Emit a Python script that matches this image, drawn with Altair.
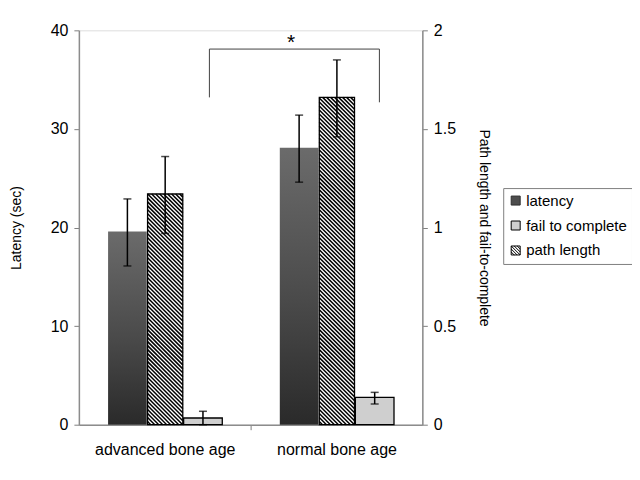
import altair as alt
import pandas as pd
import math

# ---------------- data ----------------
groups = ["advanced bone age", "normal bone age"]
latency = [19.6, 28.1]
latency_lo = [16.1, 24.6]
latency_hi = [22.9, 31.4]
path_length = [1.17, 1.66]
path_lo = [0.97, 1.46]
path_hi = [1.36, 1.85]
fail = [0.034, 0.139]
fail_lo = [0.0, 0.105]
fail_hi = [0.068, 0.164]
series = ["latency", "fail to complete", "path length"]

# significance bracket (x in group units, y in seconds)
bracket_x = [0.76, 1.75]
bracket_top = [38.1]
bracket_leg_bottom = [33.2, 32.7]
star_x = [1.235]

# ---------------- layout / style ----------------
W, H = 344, 395
FONT = "Liberation Sans"
slots = {"latency": (0.17, 0.395), "path length": (0.40, 0.605), "fail to complete": (0.61, 0.835)}


def bars(name, vals, lo, hi):
    a, b = slots[name]
    return pd.DataFrame({
        "group": groups,
        "x0": [i + a for i in range(len(groups))],
        "x1": [i + b for i in range(len(groups))],
        "xc": [i + (a + b) / 2 for i in range(len(groups))],
        "v": vals, "lo": lo, "hi": hi,
    })


lat_df = bars("latency", latency, latency_lo, latency_hi)
path_df = bars("path length", path_length, path_lo, path_hi)
fail_df = bars("fail to complete", fail, fail_lo, fail_hi)

# hatch segments for the path-length bars (45 deg in screen space)
step = 4.0
rows = []
for _, r in path_df.iterrows():
    u0, u1 = r.x0 * W / 2, r.x1 * W / 2
    vt = r.v * H / 2
    for k in range(math.ceil(u0 / step), math.floor((u1 + vt) / step) + 1):
        c = k * step
        us = max(u0, c - vt)
        ue = min(u1, c)
        if ue - us > 0.3:
            rows.append({"x": us * 2 / W, "y": (c - us) * 2 / H,
                         "x2": ue * 2 / W, "y2": (c - ue) * 2 / H})
hatch_df = pd.DataFrame(rows)

xs = alt.Scale(domain=[0, 2], nice=False, zero=False)
yl = alt.Scale(domain=[0, 40], nice=False)
yr = alt.Scale(domain=[0, 2], nice=False)

label_expr = " : ".join(
    [f"datum.value == {i + 0.5} ? '{g}'" for i, g in enumerate(groups)] + ["''"])
x_axis = alt.Axis(values=[0.5, 1, 1.5], labelExpr=label_expr, title=None, grid=False,
                  tickSize=5, tickColor="#808080",
                  tickOpacity={"condition": {"test": "datum.value == 1", "value": 1}, "value": 0},
                  domainColor="#8c8c8c", domainWidth=1.5, labelFontSize=16,
                  labelPadding=12, labelColor="black", labelFont=FONT)

left_axis = alt.Axis(values=[0, 10, 20, 30, 40], title="Latency (sec)", orient="left",
                     grid=False, tickSize=5, tickColor="#808080", domainColor="#8c8c8c",
                     domainWidth=1.5, labelFontSize=16, labelPadding=6, labelFont=FONT,
                     labelColor="black", titleFontSize=14, titleFontWeight="normal",
                     titleFont=FONT, titlePadding=27, titleColor="black")
right_axis = alt.Axis(values=[0, 0.5, 1, 1.5, 2], format="~g",
                      title="Path length and fail-to-complete", orient="right",
                      grid=False, tickSize=5, tickColor="#808080", domainColor="#8c8c8c",
                      domainWidth=1.5, labelFontSize=16, labelPadding=6, labelFont=FONT,
                      labelColor="black", titleFontSize=14, titleFontWeight="normal",
                      titleFont=FONT, titlePadding=21, titleColor="black")


def X(f):
    return alt.X(f, scale=xs, axis=x_axis)


def YL(f):
    return alt.Y(f, scale=yl, axis=left_axis)


def YR(f):
    return alt.Y(f, scale=yr, axis=right_axis)


lat_grad = alt.Gradient(gradient="linear", x1=0, x2=0, y1=0, y2=1,
                        stops=[alt.GradientStop(color="#6b6b6b", offset=0),
                               alt.GradientStop(color="#4a4a4a", offset=0.55),
                               alt.GradientStop(color="#2a2a2a", offset=1)])

# ---- legend (hidden points provide the legend only) ----
sq = "M-1,-1H1V1H-1Z"
hatch_sym = ("M-1,-1H1V1H-1Z M-1,-0.33L0.33,1 M-0.33,-1L1,0.33 M-1,0.33L-0.33,1 "
             "M0.33,-1L1,-0.33 M-1,-1L1,1")
legend_df = pd.DataFrame({"series": series, "x": [0.3, 0.3, 0.3], "y": [2, 2, 2]})
leg = alt.Legend(title=None, orient="none", legendX=425, legendY=158,
                 labelFont=FONT, labelFontSize=15, labelColor="black",
                 symbolSize=81, rowPadding=9, labelOffset=3,
                 padding=5, strokeColor="#808080", fillColor="white",
                 symbolOpacity=1, symbolStrokeWidth=1)
legend_layer = alt.Chart(legend_df).mark_point(filled=True, opacity=0, size=81, strokeWidth=1).encode(
    x=X("x:Q"),
    y=YL("y:Q"),
    fill=alt.Fill("series:N", scale=alt.Scale(domain=series, range=["#4d4d4d", "#cfcfcf", "white"]),
                  legend=leg),
    stroke=alt.Stroke("series:N", scale=alt.Scale(domain=series, range=["#2e2e2e", "black", "black"]),
                      legend=leg),
    shape=alt.Shape("series:N", scale=alt.Scale(domain=series, range=[sq, sq, hatch_sym]),
                    legend=leg),
)

lat_bars = alt.Chart(lat_df).mark_rect(fill=lat_grad).encode(
    x=X("x0:Q"), x2="x1:Q", y=YL("v:Q"), y2=alt.datum(0))
lat_err = alt.Chart(lat_df).mark_rule(color="black", strokeWidth=1.5).encode(
    x=X("xc:Q"), y=YL("lo:Q"), y2="hi:Q")
lat_cap_lo = alt.Chart(lat_df).mark_tick(color="black", orient="horizontal", size=8, thickness=1.5).encode(
    x=X("xc:Q"), y=YL("lo:Q"))
lat_cap_hi = alt.Chart(lat_df).mark_tick(color="black", orient="horizontal", size=8, thickness=1.5).encode(
    x=X("xc:Q"), y=YL("hi:Q"))

br_df = pd.DataFrame({"x": [bracket_x[0]], "x2": [bracket_x[1]], "y": bracket_top})
br_h = alt.Chart(br_df).mark_rule(color="#404040", strokeWidth=1).encode(
    x=X("x:Q"), x2="x2:Q", y=YL("y:Q"))
legs_df = pd.DataFrame({"x": bracket_x, "y": bracket_top * 2, "y2": bracket_leg_bottom})
br_v = alt.Chart(legs_df).mark_rule(color="#404040", strokeWidth=1).encode(
    x=X("x:Q"), y=YL("y:Q"), y2="y2:Q")
star_df = pd.DataFrame({"x": star_x, "y": bracket_top, "t": ["*"]})
star = alt.Chart(star_df).mark_text(font=FONT, fontSize=21, baseline="alphabetic", align="center",
                                    color="black").encode(
    x=X("x:Q"), y=YL("y:Q"), text="t:N")

left = alt.layer(legend_layer, lat_bars, lat_err, lat_cap_lo, lat_cap_hi, br_h, br_v, star)

path_bg = alt.Chart(path_df).mark_rect(fill="white").encode(
    x=X("x0:Q"), x2="x1:Q", y=YR("v:Q"), y2=alt.datum(0))
hatch = alt.Chart(hatch_df).mark_rule(color="black", strokeWidth=1.5, strokeCap="butt").encode(
    x=X("x:Q"), x2="x2:Q", y=YR("y:Q"), y2="y2:Q")
path_outline = alt.Chart(path_df).mark_rect(fill="white", fillOpacity=0, stroke="black", strokeWidth=1.3).encode(
    x=X("x0:Q"), x2="x1:Q", y=YR("v:Q"), y2=alt.datum(0))
fail_bars = alt.Chart(fail_df).mark_rect(fill="#cfcfcf", stroke="black", strokeWidth=1.3).encode(
    x=X("x0:Q"), x2="x1:Q", y=YR("v:Q"), y2=alt.datum(0))


def errs(df):
    r = alt.Chart(df).mark_rule(color="black", strokeWidth=1.5).encode(
        x=X("xc:Q"), y=YR("lo:Q"), y2="hi:Q")
    c1 = alt.Chart(df).mark_tick(color="black", orient="horizontal", size=8, thickness=1.5).encode(
        x=X("xc:Q"), y=YR("lo:Q"))
    c2 = alt.Chart(df).mark_tick(color="black", orient="horizontal", size=8, thickness=1.5).encode(
        x=X("xc:Q"), y=YR("hi:Q"))
    return [r, c1, c2]


right = alt.layer(path_bg, hatch, path_outline, fail_bars, *errs(path_df), *errs(fail_df))

chart = alt.layer(left, right).resolve_scale(y="independent").properties(
    width=W, height=H,
    padding={"left": 71, "top": 22, "right": 210, "bottom": 40},
    autosize=alt.AutoSizeParams(type="none"),
).configure_view(strokeOpacity=0).configure(background="white")

chart.save("out.html", embed_options={"renderer": "svg", "actions": False})
